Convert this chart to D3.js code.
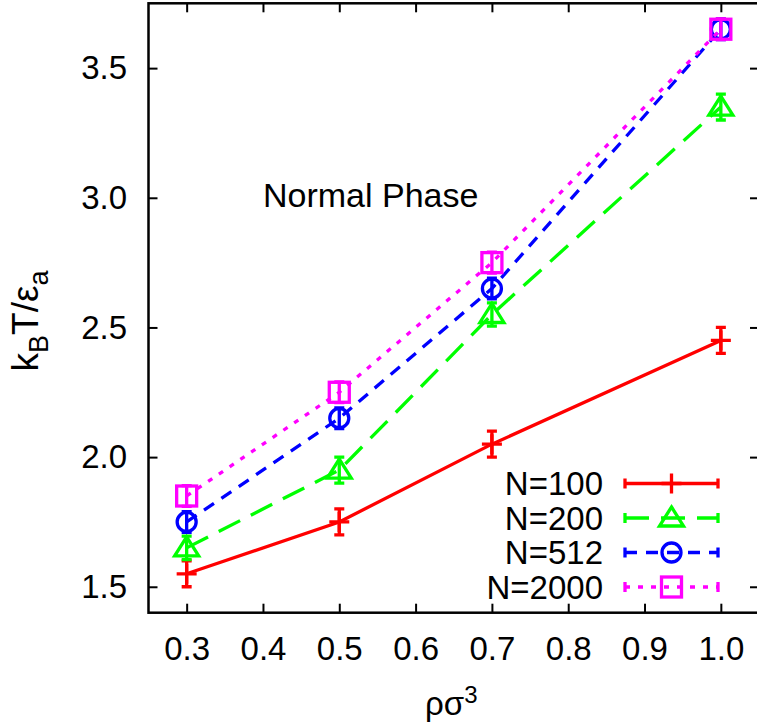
<!DOCTYPE html>
<html>
<head>
<meta charset="utf-8">
<script src="https://cdn.jsdelivr.net/npm/d3@7/dist/d3.min.js"></script>
<style>
  html, body { margin: 0; padding: 0; background: #fff; }
  svg { display: block; }
  text { font-family: "Liberation Sans", Arial, Helvetica, sans-serif; fill: #000; }
</style>
</head>
<body>
<svg id="chart" width="757" height="727"></svg>
<script>
// ---- data ----
const densities = [0.3, 0.5, 0.7, 1.0];
const tempN100  = [1.55, 1.75, 2.05, 2.45];
const errN100   = [0.05, 0.05, 0.05, 0.05];
const tempN200  = [1.65, 1.95, 2.55, 3.35];
const errN200   = [0.045, 0.05, 0.045, 0.05];
const tempN512  = [1.75, 2.15, 2.65, 3.65];
const errN512   = [0.04, 0.04, 0.04, 0.04];
const tempN2000 = [1.85, 2.25, 2.75, 3.65];
const errN2000  = [0.04, 0.04, 0.04, 0.04];
const seriesNames = ["N=100", "N=200", "N=512", "N=2000"];
const xTicks = [0.3, 0.4, 0.5, 0.6, 0.7, 0.8, 0.9, 1.0];
const yTicks = [1.5, 2.0, 2.5, 3.0, 3.5];

const series = [
  { name: seriesNames[0], y: tempN100,  e: errN100,  color: "#ff0000", dash: null,    marker: "plus" },
  { name: seriesNames[1], y: tempN200,  e: errN200,  color: "#00ff00", dash: "24,12", marker: "triangle" },
  { name: seriesNames[2], y: tempN512,  e: errN512,  color: "#0000ff", dash: "12,9",  marker: "circle" },
  { name: seriesNames[3], y: tempN2000, e: errN2000, color: "#ff00ff", dash: "5,8",   marker: "square" }
];

// ---- layout ----
const svg = d3.select("#chart");
const L = 148.5, T = 3.3, R = 759, B = 612.7;
const x = d3.scaleLinear().domain([0.25, 1.05]).range([L, R]);
const y = d3.scaleLinear().domain([1.4, 3.75]).range([B, T]);
const FS = 33;
const SW = 3.3;

// axes (inward ticks)
const gx = svg.append("g").attr("transform", `translate(0,${B})`)
  .call(d3.axisBottom(x).tickValues(xTicks).tickSize(-9).tickPadding(24).tickFormat(d3.format(".1f")));
const gxt = svg.append("g").attr("transform", `translate(0,${T})`)
  .call(d3.axisTop(x).tickValues(xTicks).tickSize(-9).tickFormat(""));
const gy = svg.append("g").attr("transform", `translate(${L},0)`)
  .call(d3.axisLeft(y).tickValues(yTicks).tickSize(-9).tickPadding(21.5).tickFormat(d3.format(".1f")));
const gyr = svg.append("g").attr("transform", `translate(${R},0)`)
  .call(d3.axisRight(y).tickValues(yTicks).tickSize(-9).tickFormat(""));
[gx, gxt, gy, gyr].forEach(g => {
  g.select(".domain").remove();
  g.selectAll(".tick line").attr("stroke", "#000").attr("stroke-width", 2);
  g.selectAll(".tick text").style("font-size", FS + "px").attr("fill", "#000")
    .style("font-family", '"Liberation Sans", Arial, Helvetica, sans-serif');
});

// frame
svg.append("rect").attr("x", L).attr("y", T).attr("width", R - L).attr("height", B - T)
  .attr("fill", "none").attr("stroke", "#000").attr("stroke-width", 2.5);

// markers
function drawMarker(g, type, cx, cy, color) {
  if (type === "plus") {
    g.append("path").attr("d", `M${cx-10},${cy}H${cx+10}M${cx},${cy-10}V${cy+10}`)
      .attr("stroke", color).attr("stroke-width", SW).attr("fill", "none");
  } else if (type === "triangle") {
    g.append("path").attr("d", `M${cx},${cy-11}L${cx+12},${cy+8}L${cx-12},${cy+8}Z`)
      .attr("stroke", color).attr("stroke-width", SW).attr("fill", "none");
  } else if (type === "circle") {
    g.append("circle").attr("cx", cx).attr("cy", cy).attr("r", 9.5)
      .attr("stroke", color).attr("stroke-width", SW).attr("fill", "none");
  } else if (type === "square") {
    g.append("rect").attr("x", cx - 10).attr("y", cy - 10).attr("width", 20).attr("height", 20)
      .attr("stroke", color).attr("stroke-width", SW).attr("fill", "none");
  }
}

const line = d3.line().x(d => x(d[0])).y(d => y(d[1]));

series.forEach(s => {
  const g = svg.append("g");
  const pts = densities.map((d, i) => [d, s.y[i], s.e[i]]);
  g.append("path").datum(pts).attr("d", line)
    .attr("fill", "none").attr("stroke", s.color).attr("stroke-width", SW)
    .attr("stroke-dasharray", s.dash);
  pts.forEach(p => {
    const cx = x(p[0]), y0 = y(p[1] - p[2]), y1 = y(p[1] + p[2]);
    g.append("path")
      .attr("d", `M${cx},${y0}V${y1}M${cx-5},${y0}H${cx+5}M${cx-5},${y1}H${cx+5}`)
      .attr("stroke", s.color).attr("stroke-width", SW).attr("fill", "none");
    drawMarker(g, s.marker, cx, y(p[1]), s.color);
  });
});

// legend
const legY0 = 483.5, legDY = 34.5, legTextX = 603, legX0 = 625, legX1 = 718;
series.forEach((s, i) => {
  const ly = legY0 + i * legDY;
  svg.append("text").attr("x", legTextX).attr("y", ly).attr("dy", "0.35em")
    .attr("text-anchor", "end").style("font-size", FS + "px").text(s.name);
  svg.append("path").attr("d", `M${legX0},${ly}H${legX1}`)
    .attr("stroke", s.color).attr("stroke-width", SW).attr("fill", "none")
    .attr("stroke-dasharray", s.dash);
  svg.append("path").attr("d", `M${legX0},${ly-5}V${ly+5}M${legX1},${ly-5}V${ly+5}`)
    .attr("stroke", s.color).attr("stroke-width", SW).attr("fill", "none");
  drawMarker(svg, s.marker, (legX0 + legX1) / 2, ly, s.color);
});

// annotation
svg.append("text").attr("x", 263).attr("y", 207).style("font-size", "34px").text("Normal Phase");

// axis titles
const xt = svg.append("text").attr("x", 425).attr("y", 715).style("font-size", FS + "px");
xt.append("tspan").text("ρσ");
xt.append("tspan").attr("dy", -12).style("font-size", "24px").text("3");

const yt = svg.append("text").attr("transform", "translate(38,321) rotate(-90)")
  .attr("text-anchor", "middle").style("font-size", "37px");
yt.append("tspan").text("k");
yt.append("tspan").attr("dy", 10).style("font-size", "27px").text("B");
yt.append("tspan").attr("dy", -10).text("T/ε");
yt.append("tspan").attr("dy", 10).style("font-size", "27px").text("a");
</script>
</body>
</html>
